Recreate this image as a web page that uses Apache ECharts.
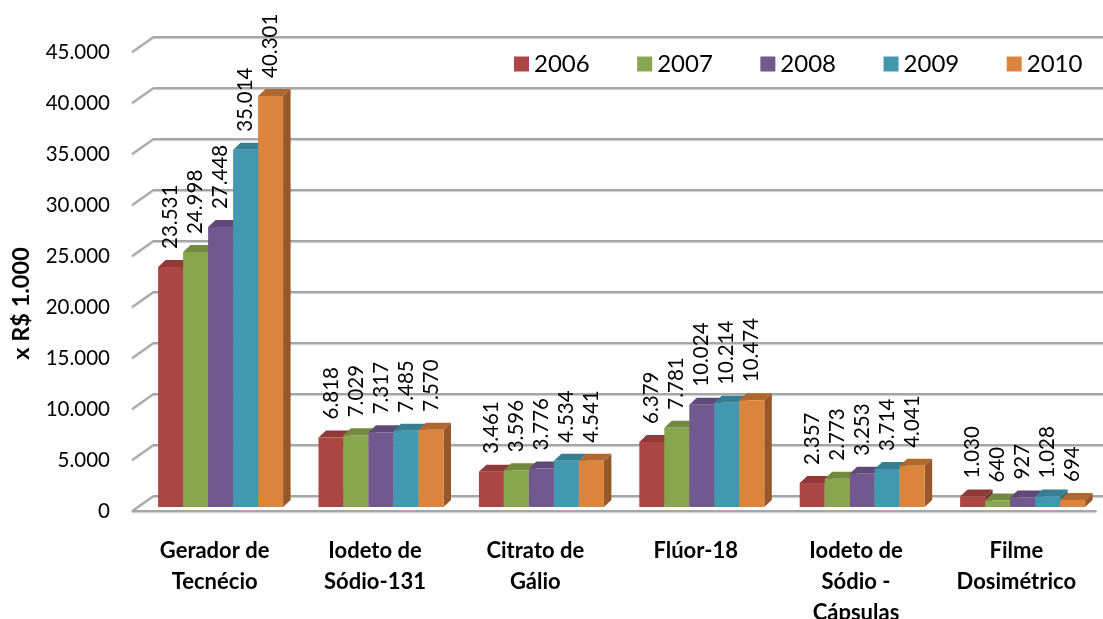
<!DOCTYPE html>
<html>
<head>
<meta charset="utf-8">
<style>html,body{margin:0;padding:0;background:#fff}#c{width:1103px;height:619px}</style>
<script src="https://cdn.jsdelivr.net/npm/echarts@6/dist/echarts.min.js"></script>
</head>
<body>
<div id="c"></div>
<script>
const categories = ['Gerador de\nTecnécio','Iodeto de\nSódio-131','Citrato de\nGálio','Flúor-18','Iodeto de\nSódio -\nCápsulas','Filme\nDosimétrico'];
const years = ['2006','2007','2008','2009','2010'];
const v2006 = [23531,6818,3461,6379,2357,1030];
const v2007 = [24998,7029,3596,7781,2773,640];
const v2008 = [27448,7317,3776,10024,3253,927];
const v2009 = [35014,7485,4534,10214,3714,1028];
const v2010 = [40301,7570,4541,10474,4041,694];
const yTicks = [0,5000,10000,15000,20000,25000,30000,35000,40000,45000];
const colors = ['#AA4643','#89A54E','#71588F','#4198AF','#DB843D'];
const sideColors = ['#7c3230','#64783a','#523f69','#2f6f80','#96582a'];
const topColors = ['#8f3a38','#73893f','#5e4978','#367f93','#b0682e'];

const seriesValues = [v2006,v2007,v2008,v2009,v2010];
const BAR_W = 25, DEPTH_X = 7.5, DEPTH_Y = -7;
const WALL_X = 22, WALL_Y = -15.5, AXIS_INSET = 2.5;
const gridColor = '#a6a6a6';
const fmt = v => String(v).replace(/\B(?=(\d{3})+$)/g,'.');
const font = 'Lato, sans-serif';

const series = [];
series.push({
  name:'diagonais', type:'custom', xAxisIndex:0, yAxisIndex:0, silent:true,
  data: yTicks.map(t=>[0,t]),
  renderItem:(p,api)=>{
    const rect = p.coordSys;
    const y = api.coord([0,api.value(1)])[1];
    const x0 = rect.x-AXIS_INSET;
    const shape = {x1:x0,y1:y,x2:x0+WALL_X,y2:y+WALL_Y};
    const style = {stroke:gridColor,lineWidth:2,fill:null,shadowColor:'rgba(0,0,0,0.2)',shadowOffsetY:1,shadowBlur:1};
    const children = [{type:'line',shape,style}];
    if (api.value(1)===0) children.push({type:'line',shape:{x1:x0,y1:y,x2:rect.x+rect.width,y2:y},style});
    return {type:'group',children};
  }
});
years.forEach((yr,s)=>{
  series.push({
    name:yr+' 3d', type:'custom', xAxisIndex:2, yAxisIndex:2, silent:true, clip:false,
    data: seriesValues[s].map((v,i)=>[i,v]),
    renderItem:(p,api)=>{
      const c = api.coord([api.value(0),api.value(1)]);
      const b = api.coord([api.value(0),0]);
      const x0 = c[0]-2.5*BAR_W+s*BAR_W, x1 = x0+BAR_W, yt = c[1], yb = b[1];
      return {type:'group',children:[
        {type:'polygon',shape:{points:[[x1,yt],[x1+DEPTH_X,yt+DEPTH_Y],[x1+DEPTH_X,yb+DEPTH_Y],[x1,yb]]},style:{fill:sideColors[s]}},
        {type:'polygon',shape:{points:[[x0,yt],[x0+DEPTH_X,yt+DEPTH_Y],[x1+DEPTH_X,yt+DEPTH_Y],[x1,yt]]},style:{fill:topColors[s]}}
      ]};
    }
  });
  series.push({
    name:yr, type:'bar', xAxisIndex:2, yAxisIndex:2,
    barWidth:BAR_W, barGap:0,
    itemStyle:{color:colors[s]},
    data: seriesValues[s],
    label:{show:true,position:'top',rotate:90,align:'left',verticalAlign:'middle',distance:15,offset:[3,0],
      formatter:p=>fmt(p.value),fontFamily:font,fontSize:20.5,color:'#000'},
    animation:false
  });
});

const chart = echarts.init(document.getElementById('c'),null,{renderer:'canvas'});
chart.setOption({
  animation:false,
  backgroundColor:'#fff',
  grid:[
    {left:134.5,top:52,width:962,height:459,outerBoundsMode:'none'},
    {left:154,top:36.5,width:1000,height:459,outerBoundsMode:'none'},
    {left:140.4,top:48,width:962.4,height:459,outerBoundsMode:'none'}
  ],
  legend:{
    data:years, left:509, top:47, itemWidth:15, itemHeight:15, itemGap:47.5, icon:'rect',
    textStyle:{fontFamily:font,fontSize:24,color:'#000'}
  },
  xAxis:[
    {gridIndex:0,type:'category',data:categories,axisLine:{show:false},axisTick:{show:false},
      axisLabel:{fontFamily:font,fontSize:22,fontWeight:'bold',color:'#000',lineHeight:31,margin:24.5,interval:0}},
    {gridIndex:1,type:'category',data:categories,show:false},
    {gridIndex:2,type:'category',data:categories,show:false}
  ],
  yAxis:[
    {gridIndex:0,type:'value',min:0,max:45000,interval:5000,splitLine:{show:false},axisLine:{show:false},axisTick:{show:false},
      axisLabel:{fontFamily:font,fontSize:20.5,color:'#000',margin:24.5,formatter:fmt},
      name:'x R$ 1.000',nameLocation:'middle',nameGap:101.5,
      nameTextStyle:{fontFamily:font,fontSize:23.5,fontWeight:'bold',color:'#000',padding:[0,44,0,0]}},
    {gridIndex:1,type:'value',min:0,max:45000,interval:5000,axisLine:{show:false},axisTick:{show:false},axisLabel:{show:false},
      splitLine:{show:true,lineStyle:{color:gridColor,width:2,shadowColor:'rgba(0,0,0,0.2)',shadowOffsetY:1,shadowBlur:1}}},
    {gridIndex:2,type:'value',min:0,max:45000,interval:5000,show:false,splitLine:{show:false}}
  ],
  series
});
</script>
</body>
</html>
